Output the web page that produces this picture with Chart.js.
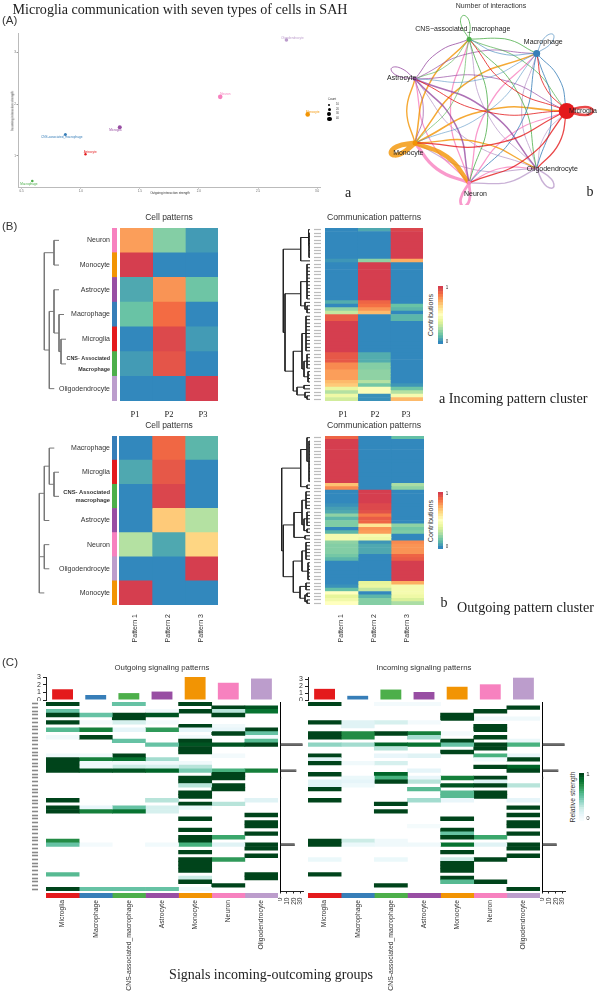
<!DOCTYPE html>
<html>
<head>
<meta charset="utf-8">
<script src="https://cdn.jsdelivr.net/npm/chart.js@4"></script>
<style>
  body { margin: 0; background: #fff; width: 600px; height: 992px; overflow: hidden; position: relative; }
  canvas { position: absolute; }
  .t { position: absolute; white-space: nowrap; color: #333; font-family: "Liberation Sans", sans-serif; line-height: 1; }
  .serif { font-family: "Liberation Serif", serif; color: #222; }
</style>
</head>
<body>
<script>
// ---- cell types and colours
const cellNames = ['Microglia', 'Macrophage', 'CNS-associated_macrophage', 'Astrocyte', 'Monocyte', 'Neuron', 'Oligodendrocyte'];
const cellColors = ['#E41A1C', '#377EB8', '#4DAF4A', '#984EA3', '#F29403', '#F781BF', '#BC9DCC'];

// ---- (A)a scatter: outgoing / incoming strength
const scatterNames = ['Macrophage', 'CNS-associated_macrophage', 'Astrocyte', 'Microglia', 'Neuron', 'Oligodendrocyte', 'Monocyte'];
const scatterColors = ['#4DAF4A', '#377EB8', '#E41A1C', '#984EA3', '#F781BF', '#BC9DCC', '#F29403'];
const outgoingStrength = [0.59, 0.87, 1.04, 1.33, 2.18, 2.74, 2.92];
const incomingStrength = [0.51, 1.41, 1.03, 1.55, 2.14, 3.24, 1.80];
const scatterCounts = [13, 15, 12, 20, 23, 18, 23];

// ---- (A)b number of interactions, row = source, col = target
const interactionCounts = [
  [20, 8, 8, 8, 10, 10, 10],
  [8, 6, 6, 5, 5, 8, 8],
  [7, 8, 8, 6, 6, 8, 8],
  [7, 7, 8, 8, 7, 12, 12],
  [13, 12, 12, 11, 40, 36, 11],
  [10, 10, 10, 10, 26, 22, 9],
  [7, 8, 8, 8, 9, 10, 12]
];
const nodeSizes = [8, 3.5, 2.5, 2, 2.5, 2, 1.2];

// ---- (B) cell patterns
const patternLabels = ['Pattern 1', 'Pattern 2', 'Pattern 3'];
const inCellRows = ['Neuron', 'Monocyte', 'Astrocyte', 'Macrophage', 'Microglia', ['CNS- Associated', 'Macrophage'], 'Oligodendrocyte'];
const inCellColors = ['#F781BF', '#F29403', '#984EA3', '#377EB8', '#E41A1C', '#4DAF4A', '#BC9DCC'];
const inCellValues = [[.78, .18, .04], [1, 0, 0], [.07, .8, .14], [.13, .88, 0], [0, .97, .04], [.04, .94, 0], [0, 0, 1]];
const outCellRows = ['Macrophage', 'Microglia', ['CNS- Associated', 'macrophage'], 'Astrocyte', 'Neuron', 'Oligodendrocyte', 'Monocyte'];
const outCellColors = ['#377EB8', '#E41A1C', '#4DAF4A', '#984EA3', '#F781BF', '#BC9DCC', '#F29403'];
const outCellValues = [[0, .89, .1], [.07, .93, 0], [0, .98, 0], [0, .68, .27], [.27, .07, .65], [0, 0, 1], [1, 0, 0]];

// ---- (B) communication patterns, one row per signal
const inSignalValues = [
  [0, .07, .98], [0, 0, 1], [0, 0, 1], [0, 0, 1], [0, 0, 1], [0, 0, 1], [0, 0, 1], [0, 0, 1], [0, 0, 1], [.03, .2, .75],
  [0, 1, 0], [0, 1, 0], [0, 1, 0], [0, 1, 0], [0, 1, 0], [0, 1, 0], [0, 1, 0], [0, 1, 0], [0, 1, 0], [0, 1, 0], [0, 1, 0],
  [.08, .9, 0], [0, .87, .13], [.2, .8, .1], [.3, .72, 0], [.92, 0, .1], [.92, 0, .1],
  [1, 0, 0], [1, 0, 0], [1, 0, 0], [1, 0, 0], [1, 0, 0], [1, 0, 0], [1, 0, 0], [1, 0, 0], [1, 0, 0],
  [.93, .08, 0], [.93, .08, 0], [.93, .08, 0], [.82, .18, 0], [.82, .18, 0], [.78, .2, 0], [.78, .2, 0], [.78, .2, 0],
  [.72, .27, 0], [.68, .15, .03], [.4, .48, .14], [.27, .48, .27], [.42, .02, .45], [.33, .02, .72]
];
const outSignalValues = [
  [.9, 0, .12], [1, 0, 0], [1, 0, 0], [1, 0, 0], [1, 0, 0], [1, 0, 0], [1, 0, 0], [1, 0, 0], [1, 0, 0], [1, 0, 0], [1, 0, 0], [1, 0, 0], [1, 0, 0], [1, 0, 0],
  [.7, 0, .25], [.82, 0, .2], [0, 1, 0], [0, 1, 0], [0, 1, 0], [0, 1, 0], [.02, .97, 0], [.05, .97, 0], [.07, .95, 0],
  [.2, .85, 0], [.1, .92, 0], [.17, .9, 0], [.17, .6, .2], [0, .8, .15], [.1, .78, .17], [.45, .45, 0], [.45, .42, 0],
  [.2, .03, .82], [.18, .07, .8], [.18, .07, .8], [.18, .07, .8], [.15, 0, .9], [.1, 0, .92],
  [0, 0, 1], [0, 0, 1], [0, 0, 1], [0, 0, 1], [0, 0, 1], [0, 0, 1],
  [0, .38, .75], [.02, .4, .45], [.12, .3, .45], [.5, 0, .45], [.38, .1, .42], [.43, .18, .35], [.5, .18, .25]
];
const signalRowIds = Array.from({ length: 50 }, (_, i) => i);

// ---- dendrograms: [height, child, child...], a plain number is a row
const inCellTree = [25.7, [16, 0, 1], [20.7, [16, 2, [11, 3, [9, 4, 5]]], 6]];
const outCellTree = [30.7, [25.7, [20.7, 0, [16, 1, 2]], 3], [25.7, 4, 5], 6];
const inSignalTree = [26.7,
  [9.3, [1.5, 0, [1, 1, 2, 3, 4, 5, 6, 7, 8]], 9],
  [25,
    [9.3, [3, 10, 11, 12, 13, 14, 15, 16, 17, 18, 19, 20], [5, 21, [3, 22, 23, 24]]],
    [16.7,
      [8, [4, 25, 26, 27, 28, 29, 30, 31, 32, 33, 34, 35], [6, [3, 36, 37, 38, 39, 40], [2, 41, 42, 43, 44]]],
      [13, [6, 45, 46], [5, 47, [3, 48, 49]]]]]];
const outSignalTree = [28.3,
  [9.3, [3, 0, [1, 1, 2, 3, 4, 5, 6, 7, 8, 9, 10, 11, 12, 13]], [3, 14, 15]],
  [26.7,
    [16, [8, [4, 16, 17, 18, 19, 20, 21], [6, [3, 22, 23, 24, 25, 26], [3, 27, 28]]], [5, 29, 30]],
    [16.7,
      [8, [4, 31, 32, 33, 34, 35, 36], [2, 37, 38, 39, 40, 41, 42]],
      [10, [4, 43, 44, 45], [5, [3, 46, 47], [3, 48, 49]]]]]];

// ---- (C) signaling heatmaps, sparse [row, strength] per cell type, 51 rows
const outgoingCells = [
  [[0,1],[2,.5],[3,1],[5,1],[7,.55],[9,.05],[14,.05],[15,1],[16,1],[17,1],[18,1],[26,1],[28,1],[29,1],[37,.75],[38,.5],[46,.55],[50,1]],
  [[3,.5],[5,.03],[7,.8],[9,1],[14,.05],[15,.8],[16,.05],[17,.05],[18,.95],[28,.1],[29,.8],[38,.03],[50,.5]],
  [[0,.5],[3,1],[4,1],[5,.2],[7,.12],[10,.5],[14,1],[15,.85],[16,.05],[17,.25],[18,.95],[28,.5],[29,.85],[50,.5]],
  [[2,.03],[3,.95],[5,.03],[7,.7],[11,.5],[15,.35],[16,.05],[17,.2],[18,.9],[26,.3],[28,.2],[29,.2],[38,.04],[50,.5]],
  [[0,1],[2,1],[6,1],[7,.12],[9,.02],[10,1],[11,.95],[12,1],[13,1],[16,.05],[17,.3],[18,.45],[20,1],[21,1],[22,.3],[24,1],[25,1],[27,1],[28,.08],[31,1],[34,1],[36,1],[37,1],[38,.6],[40,1],[42,1],[43,1],[44,1],[45,1],[47,.25],[48,1],[50,.04]],
  [[1,1],[2,.3],[3,1],[6,.05],[7,.1],[8,1],[11,.95],[14,.03],[18,.6],[19,1],[20,1],[22,1],[23,1],[27,.3],[36,.65],[38,.15],[42,.7],[49,1]],
  [[1,.95],[2,.85],[7,1],[8,.5],[9,.03],[10,.55],[11,1],[18,.8],[26,.15],[30,1],[32,1],[33,1],[35,1],[38,1],[39,1],[41,1],[46,1],[47,1]]
];
const incomingCells = [
  [[0,1],[5,1],[8,1],[9,1],[11,.4],[14,1],[15,.15],[16,1],[19,1],[21,.15],[22,.15],[23,1],[26,1],[37,1],[38,1],[42,.08],[46,1]],
  [[5,.15],[6,.15],[8,.75],[9,.75],[11,.35],[16,.05],[20,.08],[21,.12],[22,.06],[37,.25],[38,.08]],
  [[0,.03],[5,.2],[8,1],[11,.9],[12,.3],[14,.1],[16,.2],[19,.9],[20,.6],[21,1],[27,1],[29,1],[37,.05],[38,.05],[42,.08],[49,1]],
  [[0,.03],[5,.03],[8,.8],[9,.35],[11,.85],[14,.15],[18,.12],[20,.1],[21,.3],[23,.55],[26,.35],[33,.02],[38,.05]],
  [[3,1],[4,1],[8,.03],[10,1],[11,.5],[13,1],[20,.8],[22,.95],[24,.55],[25,.55],[26,.1],[31,1],[34,1],[35,.5],[36,1],[38,.85],[40,1],[42,.25],[43,1],[44,1],[45,1],[47,1],[48,.55]],
  [[2,1],[4,.05],[6,1],[7,1],[9,1],[11,1],[12,1],[14,.6],[15,.04],[17,1],[20,1],[21,.15],[22,1],[24,1],[25,1],[36,.65],[38,.15],[42,1],[48,1]],
  [[1,1],[4,.05],[10,.08],[11,.6],[14,.1],[15,1],[17,.9],[18,1],[22,.3],[26,.12],[28,1],[30,1],[32,1],[33,1],[35,1],[38,1],[39,1],[41,1],[50,1]]
];
const outgoingTotals = [1.4, .65, .9, 1.1, 3, 2.25, 2.8];
const incomingTotals = [1.6, .6, 1.5, 1.15, 1.9, 2.25, 3.2];
const signalTotals = [1,1,1,1,1,1,1,1,1,1,1,33,1,1,1,1,1,1,24,1,2,1,1,1,1,1,1,1,1,1,1,1,1,1,1,1,1,1,21.5,1,1,1,1,1,1,1,1,1,1,1,1];
const heatRowIds = signalTotals.map((_, i) => i);
const rampSteps = [1, .95, .9, .85, .8, .75, .7, .65, .6, .55, .5, .45, .4, .35, .3, .25, .2, .15, .1, .05, 0];

// ---- colour helpers
const spectral = ['#3288BD', '#66C2A5', '#ABDDA4', '#E6F598', '#FFFFBF', '#FEE08B', '#FDAE61', '#F46D43', '#D53E4F'];
const bugn = ['#F7FCFD', '#E5F5F9', '#CCECE6', '#99D8C9', '#66C2A4', '#41AE76', '#238B45', '#006D2C', '#00441B'];
function ramp(stops, v) {
  const p = Math.min(Math.max(v, 0), 1) * (stops.length - 1), i = Math.min(Math.floor(p), stops.length - 2), f = p - i;
  const ch = (h, k) => parseInt(h.substr(1 + k * 2, 2), 16);
  const c = [0, 1, 2].map(k => Math.round(ch(stops[i], k) * (1 - f) + ch(stops[i + 1], k) * f));
  return `rgb(${c[0]},${c[1]},${c[2]})`;
}
const lookup = (col, r) => { const hit = col.find(p => p[0] === r); return hit ? hit[1] : null; };

// ---- page helpers
Chart.defaults.font.family = '"Liberation Sans", sans-serif';
Chart.defaults.animation = false;
Chart.defaults.responsive = false;
Chart.defaults.plugins.legend.display = false;
Chart.defaults.plugins.tooltip.enabled = false;

function makeCanvas(l, t, w, h) {
  const c = document.createElement('canvas');
  c.width = w; c.height = h;
  c.style.left = l + 'px'; c.style.top = t + 'px';
  document.body.appendChild(c);
  return c.getContext('2d');
}
function txt(s, x, y, size, opt) {
  opt = opt || {};
  const d = document.createElement('div');
  d.className = 't' + (opt.serif ? ' serif' : '');
  d.textContent = s;
  d.style.left = x + 'px'; d.style.top = y + 'px';
  d.style.fontSize = size + 'px';
  if (opt.color) d.style.color = opt.color;
  const ax = opt.left ? '0' : '-50%';
  d.style.transform = `translate(${ax},-50%)` + (opt.rot ? ` rotate(${opt.rot}deg)` : '');
  if (!opt.rot) d.style.willChange = 'transform'; // plain grey text edges
  document.body.appendChild(d);
}
// fixed axis gutters, so the plot area lands where it should
const fixWidth = w => s => { s.width = w; s.paddingTop = 0; s.paddingBottom = 0; };
const fixHeight = h => s => { s.height = h; s.paddingLeft = 0; s.paddingRight = 0; };

// heatmap = stacked horizontal bars, one dataset per column
function heat(box, rows, cols, colorOf, o) {
  o = o || {};
  const [l, t, r, b] = box, gl = o.gutterLeft || 0, gb = o.gutterBottom || 0;
  new Chart(makeCanvas(l - gl, t, r - l + gl, b - t + gb), {
    type: 'bar',
    data: {
      labels: rows,
      datasets: cols.map((c, j) => ({
        data: rows.map(() => 1),
        backgroundColor: rows.map((_, i) => colorOf(i, j)),
        barPercentage: 1, categoryPercentage: 1, borderWidth: 0
      }))
    },
    options: {
      indexAxis: 'y',
      layout: { padding: 0 },
      scales: {
        x: {
          stacked: true, min: 0, max: cols.length, display: !!gb,
          afterBuildTicks: s => { s.ticks = cols.map((_, j) => ({ value: j + .5 })); },
          afterFit: fixHeight(gb),
          grid: { display: false, drawTicks: false }, border: { display: false },
          ticks: {
            callback: (v, i) => cols[i], autoSkip: false, minRotation: 90, maxRotation: 90,
            padding: o.colPad === undefined ? 3 : o.colPad, color: '#333', font: { size: o.colFont || 7 }
          }
        },
        y: {
          stacked: true, display: !!gl,
          afterFit: fixWidth(gl),
          border: { display: false },
          grid: o.rowMarks ? {
            offset: false, drawOnChartArea: false, tickLength: gl,
            tickColor: o.rowMarks.color, tickWidth: o.rowMarks.width, tickBorderDash: [o.rowMarks.len, 100]
          } : { display: false, drawTicks: false },
          ticks: o.rowMarks ? { display: false } : {
            autoSkip: false, padding: 2, color: '#333',
            font: o.rowFont || { size: 7 }
          }
        }
      }
    }
  });
}

// dendrogram, drawn as one scatter line with breaks
function treeSegments(node, stub, out) {
  const h = node[0];
  const kids = node.slice(1).map(k => {
    if (typeof k === 'number') return { y: k + .5, end: Math.max(h - stub, 0) };
    const sub = treeSegments(k, stub, out);
    return { y: sub.y, end: k[0] };
  });
  kids.forEach(k => out.push({ x: h, y: k.y }, { x: k.end, y: k.y }, { x: null, y: null }));
  const ys = kids.map(k => k.y), lo = Math.min(...ys), hi = Math.max(...ys);
  out.push({ x: h, y: lo }, { x: h, y: hi }, { x: null, y: null });
  return { y: (lo + hi) / 2 };
}
function tree(box, node, rowCount, stub, color, width) {
  const [l, t, r, b] = box, pts = [];
  treeSegments(node, stub, pts);
  new Chart(makeCanvas(l, t, r - l, b - t), {
    type: 'scatter',
    data: { datasets: [{ data: pts, showLine: true, pointRadius: 0, borderColor: color, borderWidth: width, spanGaps: false, tension: 0 }] },
    options: {
      layout: { padding: 0 },
      scales: {
        x: { display: false, min: 0, max: r - l, reverse: true },
        y: { display: false, min: 0, max: rowCount, reverse: true }
      }
    }
  });
}

// ---- (A)a
const dotLabelOffsets = [[-12, 2.7], [-24.3, 2.3], [-1.7, -2], [-10.6, 3], [0, -2.3], [-5.3, -2.3], [-1.7, -2.3]];
new Chart(makeCanvas(0, 25, 345, 175), {
  type: 'bubble',
  data: {
    datasets: [{
      data: outgoingStrength.map((x, i) => ({ x, y: incomingStrength[i], r: scatterCounts[i] / 10 })),
      backgroundColor: scatterColors, borderWidth: 0
    }]
  },
  options: {
    layout: { padding: { top: 8.3, right: 24.3 } },
    scales: {
      x: {
        min: .469, max: 3.03,
        afterFit: fixHeight(13),
        grid: { drawOnChartArea: false, tickLength: 1.5, tickColor: '#999' },
        border: { color: '#bbb' },
        ticks: { stepSize: .5, includeBounds: false, padding: 0.5, maxRotation: 0, autoSkip: false, color: '#666', font: { size: 3 }, callback: v => v.toFixed(1) }
      },
      y: {
        min: .395, max: 3.37,
        afterFit: fixWidth(18),
        grid: { drawOnChartArea: false, tickLength: 1.5, tickColor: '#999' },
        border: { color: '#bbb' },
        ticks: { stepSize: 1, includeBounds: false, padding: 0.5, autoSkip: false, color: '#666', font: { size: 3 }, callback: v => String(v) }
      }
    }
  },
  plugins: [{
    id: 'dotLabels',
    afterDatasetsDraw(chart) {
      const c = chart.ctx;
      c.font = '3.1px "Liberation Sans"'; c.textBaseline = 'middle'; c.textAlign = 'left';
      chart.getDatasetMeta(0).data.forEach((el, i) => {
        c.fillStyle = scatterColors[i];
        c.fillText(scatterNames[i], el.x + dotLabelOffsets[i][0], el.y + dotLabelOffsets[i][1]);
      });
    }
  }]
});
txt('Outgoing interaction strength', 170, 193.7, 3.1);
txt('Incoming interaction strength', 12.7, 110.6, 3.1, { rot: -90 });
txt('Count', 331.5, 100, 3.2);
[[105, 1.1], [109.7, 1.5], [114.3, 1.9], [119, 2.3]].forEach(([y, r], i) => {
  const d = document.createElement('div');
  d.style.cssText = `position:absolute;left:${329.3 - r}px;top:${y - r}px;width:${2 * r}px;height:${2 * r}px;border-radius:50%;background:#000`;
  document.body.appendChild(d);
  txt(String((i + 1) * 10), 336, y, 2.6, { left: true });
});

// ---- (A)b circle plot, nodes sit evenly on a circle
const nodeXY = cellNames.map((_, i) => {
  const a = i * 2 * Math.PI / cellNames.length;
  return { x: Math.cos(a), y: Math.sin(a) };
});
const edgeSets = [];
interactionCounts.forEach((row, s) => {
  row.forEach((count, d) => {
    const a = nodeXY[s], b = nodeXY[d];
    let pts;
    if (s === d) {
      // self loop: petal pointing away from the centre
      const ux = a.x, uy = a.y, px = -uy, py = ux;
      pts = [a,
        { x: a.x + .23 * ux + .055 * px, y: a.y + .23 * uy + .055 * py },
        { x: a.x + .33 * ux, y: a.y + .33 * uy },
        { x: a.x + .23 * ux - .055 * px, y: a.y + .23 * uy - .055 * py },
        a];
    } else {
      // arc bends to the left of the travel direction
      const k = .12;
      pts = [a, { x: (a.x + b.x) / 2 - (b.y - a.y) * k, y: (a.y + b.y) / 2 + (b.x - a.x) * k }, b];
    }
    edgeSets.push({
      data: pts, showLine: true, pointRadius: 0, tension: .5, clip: false,
      borderColor: cellColors[s] + 'CC', borderWidth: count / 8, order: 2
    });
  });
});
const nodeLabelOffsets = [[16.3, 0], [6.6, -11.7], [-6.4, -10.3], [-13.3, -.7], [-6.7, 10], [6.3, 11.3], [15.7, .7]];
new Chart(makeCanvas(370, 0, 230, 205), {
  type: 'scatter',
  data: {
    datasets: edgeSets.concat([{
      data: nodeXY, pointRadius: nodeSizes, pointBackgroundColor: cellColors, pointBorderWidth: 0, clip: false, order: 1
    }])
  },
  options: {
    layout: { padding: { left: 37.1, right: 33.3, top: 37.3, bottom: 20.3 } },
    scales: {
      x: { display: false, min: -1, max: 1 },
      y: { display: false, min: -1, max: 1 }
    }
  },
  plugins: [{
    id: 'nodeLabels',
    afterDatasetsDraw(chart) {
      const c = chart.ctx, m = chart.getDatasetMeta(edgeSets.length);
      c.font = '7px "Liberation Sans"'; c.textAlign = 'center'; c.textBaseline = 'middle'; c.fillStyle = '#222';
      m.data.forEach((el, i) => {
        c.fillText(cellNames[i].replace('-', '\u2212'), el.x + nodeLabelOffsets[i][0], el.y + nodeLabelOffsets[i][1]);
      });
    }
  }]
});
txt('Number of interactions', 490.5, 4.6, 7);

// ---- (B)
const smallCns = ctx => (ctx.index === 5 ? { size: 5.4, weight: 'bold', lineHeight: 2.1 } : { size: 7 });
const smallCns2 = ctx => (ctx.index === 2 ? { size: 5.8, weight: 'bold', lineHeight: 1.3 } : { size: 7 });
const spectralCell = m => (i, j) => ramp(spectral, m[i][j]);

// incoming
heat([120, 228.3, 218, 401.7], inCellRows, patternLabels, spectralCell(inCellValues));
heat([112, 228.3, 117.3, 401.7], inCellRows, ['strip'], i => inCellColors[i], { gutterLeft: 60, rowFont: smallCns });
tree([30, 228.3, 70, 401.7], inCellTree, 7, 5, '#777', 1);
heat([325, 228.3, 423.3, 401.7], signalRowIds, patternLabels, spectralCell(inSignalValues),
  { gutterLeft: 11, rowMarks: { color: '#bbb', width: 1.2, len: 7 } });
tree([280, 228.3, 310, 401.7], inSignalTree, 50, 99, '#222', 1);
heat([438.3, 285.7, 443.3, 344.3], rampSteps, ['ramp'], i => ramp(spectral, rampSteps[i]));

// outgoing
heat([119, 436, 218, 605.3], outCellRows, patternLabels, spectralCell(outCellValues), { gutterBottom: 40, colPad: 9, colFont: 7 });
heat([112, 436, 117.3, 605.3], outCellRows, ['strip'], i => outCellColors[i], { gutterLeft: 60, rowFont: smallCns2 });
tree([30, 436, 70, 605.3], outCellTree, 7, 5, '#777', 1);
heat([325, 436, 424, 605.3], signalRowIds, patternLabels, spectralCell(outSignalValues),
  { gutterLeft: 11, gutterBottom: 40, colPad: 9, colFont: 7, rowMarks: { color: '#bbb', width: 1.2, len: 7 } });
tree([280, 436, 310, 605.3], outSignalTree, 50, 99, '#222', 1);
heat([438.3, 491.7, 443.3, 549.3], rampSteps, ['ramp'], i => ramp(spectral, rampSteps[i]));

// ---- (C)
function totalsChart(box, values, yMax, gutter) {
  const [l, t, r, b] = box;
  new Chart(makeCanvas(l - gutter, t - 4, r - l + gutter, b - t + 5), {
    type: 'bar',
    data: { labels: cellNames, datasets: [{ data: values, backgroundColor: cellColors, categoryPercentage: .63, barPercentage: 1 }] },
    options: {
      layout: { padding: { top: 4, bottom: 1 } },
      scales: {
        x: { display: false },
        y: {
          min: 0, max: yMax,
          afterFit: fixWidth(gutter),
          grid: { drawOnChartArea: false, tickLength: 3, tickColor: '#222' },
          border: { color: '#222' },
          ticks: { stepSize: 1, includeBounds: false, autoSkip: false, padding: 2, color: '#333', font: { size: 7 } }
        }
      }
    }
  });
}
function sideBars(left, values) {
  new Chart(makeCanvas(left - 2, 702, 26, 189 + 24), {
    type: 'bar',
    data: { labels: heatRowIds, datasets: [{ data: values, backgroundColor: '#6a6a6a', borderColor: '#222', borderWidth: .7, categoryPercentage: .75, barPercentage: 1 }] },
    options: {
      indexAxis: 'y',
      layout: { padding: { right: 1 } },
      scales: {
        x: {
          min: 0, max: 33.4,
          afterFit: fixHeight(24),
          grid: { drawOnChartArea: false, tickLength: 2.5, tickColor: '#222' },
          border: { color: '#222' },
          ticks: { stepSize: 10, includeBounds: false, autoSkip: false, minRotation: 90, maxRotation: 90, padding: 4, color: '#333', font: { size: 6.6 } }
        },
        y: {
          afterFit: fixWidth(2),
          grid: { display: false, drawTicks: false },
          border: { color: '#000', dash: [2, 1.5], width: 1 },
          ticks: { display: false }
        }
      }
    }
  });
}
const greenCell = cells => (i, j) => {
  const v = lookup(cells[j], i);
  return v === null ? 'rgba(0,0,0,0)' : ramp(bugn, v);
};

totalsChart([45.7, 676.7, 278, 700], outgoingTotals, 3, 14);
totalsChart([308, 676.9, 540, 700], incomingTotals, 3.3, 14);
heat([45.7, 702, 278, 891], heatRowIds, cellNames, greenCell(outgoingCells),
  { gutterLeft: 14, rowMarks: { color: '#888', width: 1.6, len: 6 } });
heat([308, 702, 540, 891], heatRowIds, cellNames, greenCell(incomingCells));
heat([45.7, 892.7, 278, 898.3], ['strip'], cellNames, (i, j) => cellColors[j], { gutterBottom: 94, colPad: 2, colFont: 6.8 });
heat([308, 892.7, 540, 898.3], ['strip'], cellNames, (i, j) => cellColors[j], { gutterBottom: 94, colPad: 2, colFont: 6.8 });
sideBars(280, signalTotals);
sideBars(542.3, signalTotals);
heat([579.3, 772.7, 585, 821], rampSteps, ['ramp'], i => ramp(bugn, rampSteps[i]));

// ---- all other text
txt('Microglia communication with seven types of cells in SAH', 179.5, 8.7, 14.1, { serif: true });
txt('(A)', 2, 21, 11.5, { left: true });
txt('(B)', 2, 227, 11.5, { left: true });
txt('(C)', 2, 662.7, 11.5, { left: true });
txt('a', 348, 193, 14, { serif: true });
txt('b', 590, 192, 14, { serif: true });
txt('Cell patterns', 169, 217.3, 8.5);
txt('Communication patterns', 374, 217.3, 8.7);
txt('Cell patterns', 169, 425, 8.5);
txt('Communication patterns', 374, 425, 8.7);
['P1', 'P2', 'P3'].forEach((p, i) => {
  txt(p, [135, 169.3, 203.3][i], 414.3, 8.5, { serif: true });
  txt(p, [343.3, 375, 406][i], 413.6, 8.5, { serif: true });
});
txt('Contributions', 430.7, 315, 7.2, { rot: -90 });
txt('Contributions', 430.7, 520.7, 7.2, { rot: -90 });
txt('1', 447, 288, 4.5); txt('0', 447, 342, 4.5);
txt('1', 447, 494, 4.5); txt('0', 447, 547, 4.5);
txt('a  Incoming pattern cluster', 439, 397.7, 14.2, { serif: true, left: true });
txt('b', 444, 602.7, 14, { serif: true });
txt('Outgoing pattern cluster', 457.3, 606.7, 14.1, { serif: true, left: true });
txt('Outgoing signaling patterns', 162, 667.7, 7.8);
txt('Incoming signaling patterns', 424, 667.7, 7.8);
txt('Relative strength', 573.3, 796.7, 6.8, { rot: -90 });
txt('1', 587.7, 774, 6); txt('0', 587.7, 818, 6);
txt('Signals incoming-outcoming groups', 271, 975, 14, { serif: true });
</script>
</body>
</html>
